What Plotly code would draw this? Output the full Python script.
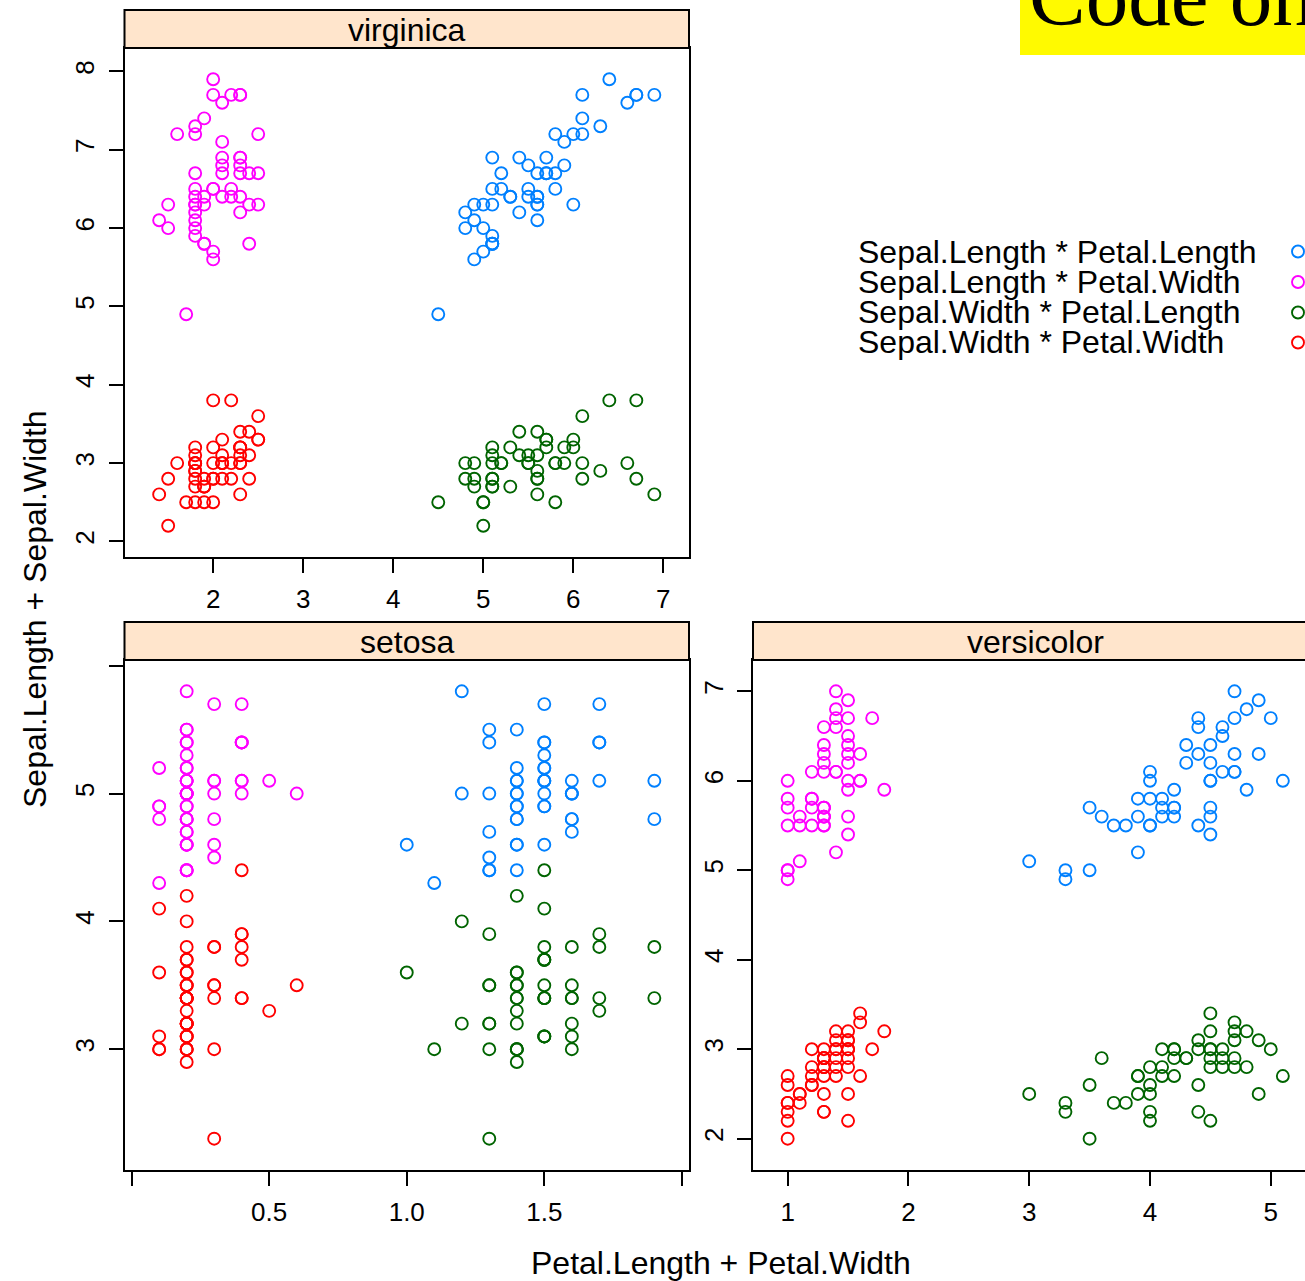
import plotly.graph_objects as go

# ---------------- data (iris, by species) ----------------
setosa_sepal_length = [5.1,4.9,4.7,4.6,5.0,5.4,4.6,5.0,4.4,4.9,5.4,4.8,4.8,4.3,5.8,5.7,5.4,5.1,5.7,5.1,
                       5.4,5.1,4.6,5.1,4.8,5.0,5.0,5.2,5.2,4.7,4.8,5.4,5.2,5.5,4.9,5.0,5.5,4.9,4.4,5.1,
                       5.0,4.5,4.4,5.0,5.1,4.8,5.1,4.6,5.3,5.0]
setosa_sepal_width = [3.5,3.0,3.2,3.1,3.6,3.9,3.4,3.4,2.9,3.1,3.7,3.4,3.0,3.0,4.0,4.4,3.9,3.5,3.8,3.8,
                      3.4,3.7,3.6,3.3,3.4,3.0,3.4,3.5,3.4,3.2,3.1,3.4,4.1,4.2,3.1,3.2,3.5,3.6,3.0,3.4,
                      3.5,2.3,3.2,3.5,3.8,3.0,3.8,3.2,3.7,3.3]
setosa_petal_length = [1.4,1.4,1.3,1.5,1.4,1.7,1.4,1.5,1.4,1.5,1.5,1.6,1.4,1.1,1.2,1.5,1.3,1.4,1.7,1.5,
                       1.7,1.5,1.0,1.7,1.9,1.6,1.6,1.5,1.4,1.6,1.6,1.5,1.5,1.4,1.5,1.2,1.3,1.4,1.3,1.5,
                       1.3,1.3,1.3,1.6,1.9,1.4,1.6,1.4,1.5,1.4]
setosa_petal_width = [0.2,0.2,0.2,0.2,0.2,0.4,0.3,0.2,0.2,0.1,0.2,0.2,0.1,0.1,0.2,0.4,0.4,0.3,0.3,0.3,
                      0.2,0.4,0.2,0.5,0.2,0.2,0.4,0.2,0.2,0.2,0.2,0.4,0.1,0.2,0.2,0.2,0.2,0.1,0.2,0.2,
                      0.3,0.3,0.2,0.6,0.4,0.3,0.2,0.2,0.2,0.2]

versicolor_sepal_length = [7.0,6.4,6.9,5.5,6.5,5.7,6.3,4.9,6.6,5.2,5.0,5.9,6.0,6.1,5.6,6.7,5.6,5.8,6.2,5.6,
                           5.9,6.1,6.3,6.1,6.4,6.6,6.8,6.7,6.0,5.7,5.5,5.5,5.8,6.0,5.4,6.0,6.7,6.3,5.6,5.5,
                           5.5,6.1,5.8,5.0,5.6,5.7,5.7,6.2,5.1,5.7]
versicolor_sepal_width = [3.2,3.2,3.1,2.3,2.8,2.8,3.3,2.4,2.9,2.7,2.0,3.0,2.2,2.9,2.9,3.1,3.0,2.7,2.2,2.5,
                          3.2,2.8,2.5,2.8,2.9,3.0,2.8,3.0,2.9,2.6,2.4,2.4,2.7,2.7,3.0,3.4,3.1,2.3,3.0,2.5,
                          2.6,3.0,2.6,2.3,2.7,3.0,2.9,2.9,2.5,2.8]
versicolor_petal_length = [4.7,4.5,4.9,4.0,4.6,4.5,4.7,3.3,4.6,3.9,3.5,4.2,4.0,4.7,3.6,4.4,4.5,4.1,4.5,3.9,
                           4.8,4.0,4.9,4.7,4.3,4.4,4.8,5.0,4.5,3.5,3.8,3.7,3.9,5.1,4.5,4.5,4.7,4.4,4.1,4.0,
                           4.4,4.6,4.0,3.3,4.2,4.2,4.2,4.3,3.0,4.1]
versicolor_petal_width = [1.4,1.5,1.5,1.3,1.5,1.3,1.6,1.0,1.3,1.4,1.0,1.5,1.0,1.4,1.3,1.4,1.5,1.0,1.5,1.1,
                          1.8,1.3,1.5,1.2,1.3,1.4,1.4,1.7,1.5,1.0,1.1,1.0,1.2,1.6,1.5,1.6,1.5,1.3,1.3,1.3,
                          1.2,1.4,1.2,1.0,1.3,1.2,1.3,1.3,1.1,1.3]

virginica_sepal_length = [6.3,5.8,7.1,6.3,6.5,7.6,4.9,7.3,6.7,7.2,6.5,6.4,6.8,5.7,5.8,6.4,6.5,7.7,7.7,6.0,
                          6.9,5.6,7.7,6.3,6.7,7.2,6.2,6.1,6.4,7.2,7.4,7.9,6.4,6.3,6.1,7.7,6.3,6.4,6.0,6.9,
                          6.7,6.9,5.8,6.8,6.7,6.7,6.3,6.5,6.2,5.9]
virginica_sepal_width = [3.3,2.7,3.0,2.9,3.0,3.0,2.5,2.9,2.5,3.6,3.2,2.7,3.0,2.5,2.8,3.2,3.0,3.8,2.6,2.2,
                         3.2,2.8,2.8,2.7,3.3,3.2,2.8,3.0,2.8,3.0,2.8,3.8,2.8,2.8,2.6,3.0,3.4,3.1,3.0,3.1,
                         3.1,3.1,2.7,3.2,3.3,3.0,2.5,3.0,3.4,3.0]
virginica_petal_length = [6.0,5.1,5.9,5.6,5.8,6.6,4.5,6.3,5.8,6.1,5.1,5.3,5.5,5.0,5.1,5.3,5.5,6.7,6.9,5.0,
                          5.7,4.9,6.7,4.9,5.7,6.0,4.8,4.9,5.6,5.8,6.1,6.4,5.6,5.1,5.6,6.1,5.6,5.5,4.8,5.4,
                          5.6,5.1,5.1,5.9,5.7,5.2,5.0,5.2,5.4,5.1]
virginica_petal_width = [2.5,1.9,2.1,1.8,2.2,2.1,1.7,1.8,1.8,2.5,2.0,1.9,2.1,2.0,2.4,2.3,1.8,2.2,2.3,1.5,
                         2.3,2.0,2.0,1.8,2.1,1.8,1.8,1.8,2.1,1.6,1.9,2.0,2.2,1.5,1.4,2.3,2.4,1.8,1.8,2.1,
                         2.4,2.3,1.9,2.3,2.5,2.3,1.9,2.0,2.3,1.8]

series_names = ["Sepal.Length * Petal.Length", "Sepal.Length * Petal.Width",
                "Sepal.Width * Petal.Length", "Sepal.Width * Petal.Width"]
series_colors = ["#0080ff", "#ff00ff", "#006400", "#ff0000"]

virginica_xticks = [2, 3, 4, 5, 6, 7]
virginica_xlabels = ["2", "3", "4", "5", "6", "7"]
virginica_yticks = [2, 3, 4, 5, 6, 7, 8]
virginica_ylabels = ["2", "3", "4", "5", "6", "7", "8"]
setosa_xticks = [0, 0.5, 1.0, 1.5, 2.0]
setosa_xlabels = ["", "0.5", "1.0", "1.5", ""]
setosa_yticks = [3, 4, 5, 6]
setosa_ylabels = ["3", "4", "5", ""]
versicolor_xticks = [1, 2, 3, 4, 5]
versicolor_xlabels = ["1", "2", "3", "4", "5"]
versicolor_yticks = [2, 3, 4, 5, 6, 7]
versicolor_ylabels = ["2", "3", "4", "5", "6", "7"]

species_data = {
    "virginica": (virginica_sepal_length, virginica_sepal_width, virginica_petal_length, virginica_petal_width,
                  virginica_xticks, virginica_xlabels, virginica_yticks, virginica_ylabels),
    "setosa": (setosa_sepal_length, setosa_sepal_width, setosa_petal_length, setosa_petal_width,
               setosa_xticks, setosa_xlabels, setosa_yticks, setosa_ylabels),
    "versicolor": (versicolor_sepal_length, versicolor_sepal_width, versicolor_petal_length, versicolor_petal_width,
                   versicolor_xticks, versicolor_xlabels, versicolor_yticks, versicolor_ylabels),
}

# ---------------- layout geometry (pixels) ----------------
W, H = 1305, 1281
FONT = "Liberation Sans, Arial, Helvetica, sans-serif"
panels = {
    "virginica": dict(x=(124.5, 689.0), y=(48.0, 557.0), strip=(10.0, 48.0), ax=""),
    "setosa": dict(x=(124.5, 689.0), y=(660.0, 1170.0), strip=(622.0, 660.0), ax="2"),
    "versicolor": dict(x=(753.0, 1317.5), y=(660.0, 1170.0), strip=(622.0, 660.0), ax="3"),
}

def fx(p):
    return p / W

def fy(p):
    return 1 - p / H

fig = go.Figure()
layout = dict(
    width=W, height=H, margin=dict(l=0, r=0, t=0, b=0),
    paper_bgcolor="white", plot_bgcolor="white", showlegend=False,
    font=dict(family=FONT, color="black"),
)
shapes = []
annotations = []

for sp, geo in panels.items():
    sl, sw, pl, pw, xt, xl, yt, yl = species_data[sp]
    xs_list = [pl, pw, pl, pw]
    ys_list = [sl, sl, sw, sw]
    allx = pl + pw
    ally = sl + sw
    xlo, xhi = min(allx), max(allx)
    ylo, yhi = min(ally), max(ally)
    xpad = 0.07 * (xhi - xlo)
    ypad = 0.07 * (yhi - ylo)
    xr = [xlo - xpad, xhi + xpad]
    yr = [ylo - ypad, yhi + ypad]
    x0p, x1p = geo["x"]
    vis_x1 = min(x1p, W)
    xr_vis = [xr[0], xr[0] + (vis_x1 - x0p) / (x1p - x0p) * (xr[1] - xr[0])]
    ax = geo["ax"]
    for i in range(4):
        fig.add_trace(go.Scatter(
            x=xs_list[i], y=ys_list[i], mode="markers",
            marker=dict(symbol="circle-open", size=12, color=series_colors[i],
                        line=dict(width=1.9, color=series_colors[i])),
            name=series_names[i], xaxis="x" + ax, yaxis="y" + ax, hoverinfo="skip",
        ))
    clipped = x1p > W
    layout["xaxis" + ax] = dict(
        domain=[fx(x0p), fx(vis_x1)], range=xr_vis, anchor="y" + ax,
        showgrid=False, zeroline=False, showline=True, linecolor="black", linewidth=2,
        mirror=True, ticks="outside", ticklen=14, tickwidth=1.8, tickcolor="black",
        ticklabelstandoff=4,
        tickvals=xt, ticktext=xl, tickfont=dict(size=26, family=FONT, color="black"),
    )
    layout["yaxis" + ax] = dict(
        domain=[fy(geo["y"][1]), fy(geo["y"][0])], range=yr, anchor="x" + ax,
        showgrid=False, zeroline=False, showline=True, linecolor="black", linewidth=2,
        mirror=not clipped, ticks="outside", ticklen=14, tickwidth=1.8, tickcolor="black",
        ticklabelstandoff=4,
        tickvals=yt, ticktext=yl, tickangle=-90,
        tickfont=dict(size=26, family=FONT, color="black"),
    )
    s0, s1 = geo["strip"]
    shapes.append(dict(type="rect", xref="paper", yref="paper",
                       x0=fx(x0p), x1=fx(x1p), y0=fy(s1), y1=fy(s0),
                       fillcolor="#ffe5cc", line=dict(color="black", width=2), layer="above"))
    annotations.append(dict(text=sp, xref="paper", yref="paper",
                            x=fx((x0p + x1p) / 2), y=fy((s0 + s1) / 2 + 1),
                            xanchor="center", yanchor="middle", showarrow=False,
                            font=dict(size=32, family=FONT, color="black")))

# legend (key on the right)
legend_rows = [251.5, 282.0, 312.5, 342.5]
for i, name in enumerate(series_names):
    annotations.append(dict(text=name, xref="paper", yref="paper", x=fx(856), y=fy(legend_rows[i]),
                            xanchor="left", yanchor="middle", showarrow=False,
                            font=dict(size=32, family=FONT, color="black")))
    shapes.append(dict(type="circle", xref="paper", yref="paper",
                       x0=fx(1298 - 6), x1=fx(1298 + 6), y0=fy(legend_rows[i] + 6), y1=fy(legend_rows[i] - 6),
                       line=dict(color=series_colors[i], width=1.9), fillcolor="rgba(0,0,0,0)"))

# axis titles
annotations.append(dict(text="Petal.Length + Petal.Width", xref="paper", yref="paper",
                        x=fx(720.5), y=fy(1263), xanchor="center", yanchor="middle", showarrow=False,
                        font=dict(size=32, family=FONT, color="black")))
annotations.append(dict(text="Sepal.Length + Sepal.Width", xref="paper", yref="paper",
                        x=fx(35), y=fy(609), xanchor="center", yanchor="middle", showarrow=False,
                        textangle=-90, font=dict(size=32, family=FONT, color="black")))

# yellow banner (cut off at the top-right)
shapes.append(dict(type="rect", xref="paper", yref="paper", x0=fx(1020), x1=fx(W + 10),
                   y0=fy(55), y1=fy(-10), fillcolor="#fffa00", line=dict(width=0), layer="below"))
annotations.append(dict(text="Code on", xref="paper", yref="paper", x=fx(1027), y=fy(45),
                        xanchor="left", yanchor="bottom", showarrow=False,
                        font=dict(size=85, family="Liberation Serif, Times New Roman, serif", color="black")))

layout["shapes"] = shapes
layout["annotations"] = annotations
fig.update_layout(**layout)
fig.write_html("out.html")
